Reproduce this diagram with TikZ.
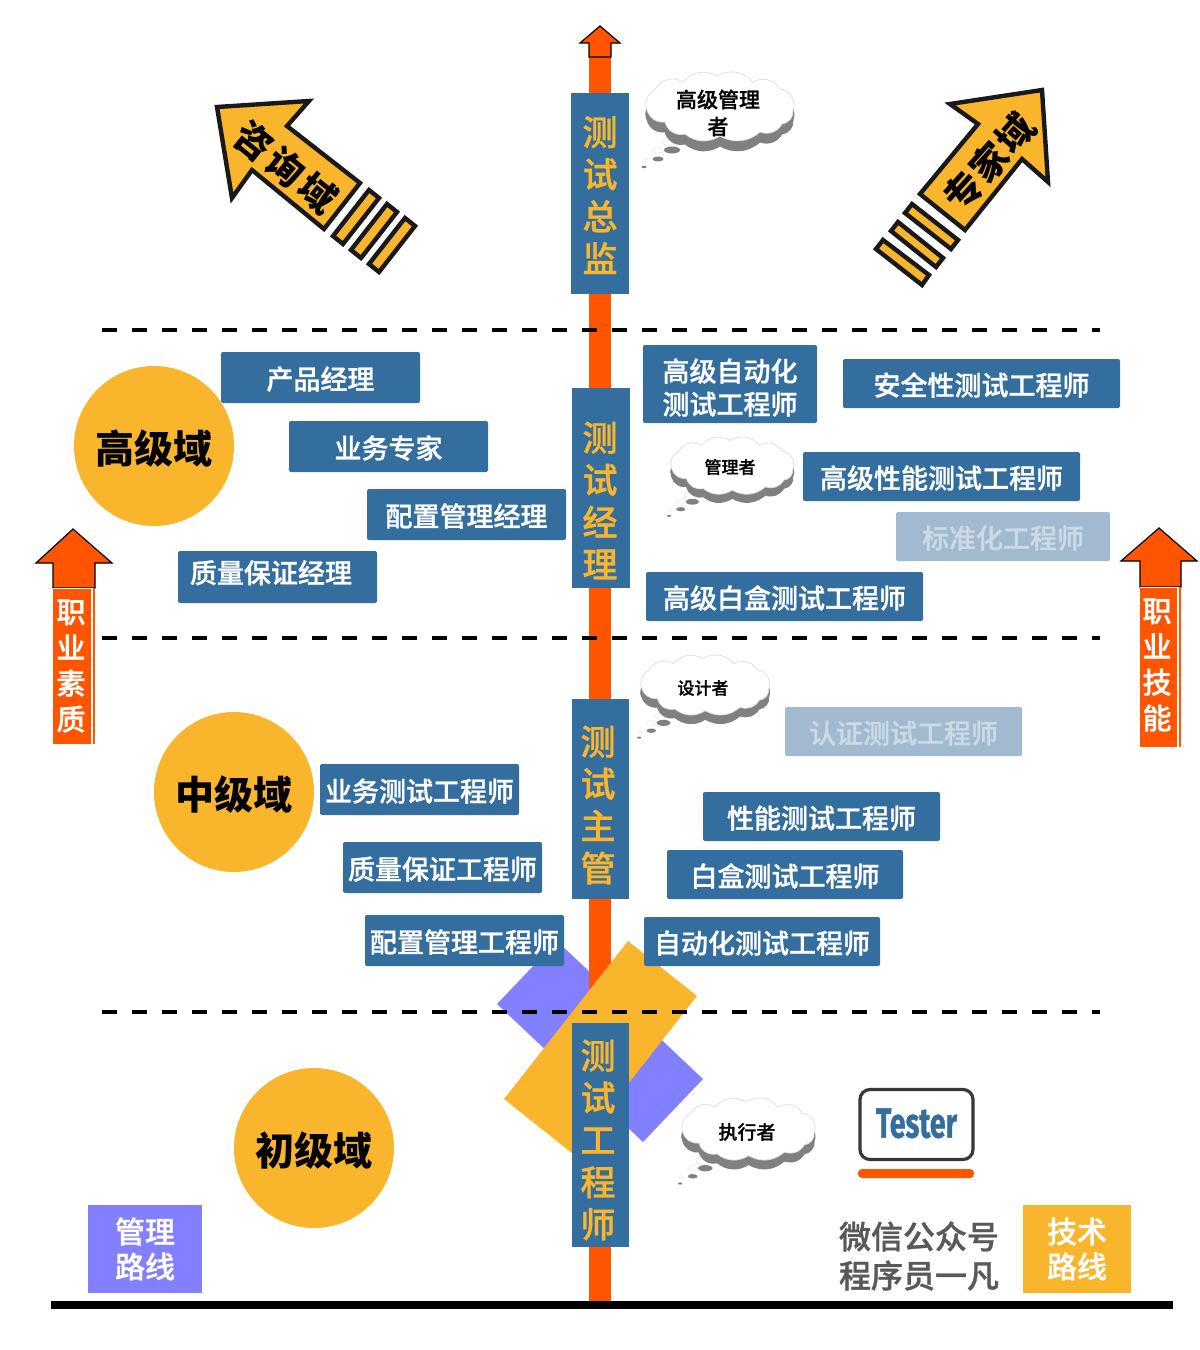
\documentclass[tikz,border=0pt]{standalone}
\usepackage{fontspec}
\setmainfont{Noto Sans CJK SC}
\newfontfamily\cjk{Noto Sans CJK SC}[BoldFont={Noto Sans CJK SC Medium},BoldFeatures={FakeBold=1}]
\newfontfamily\heavycjk{Noto Sans CJK SC}
\newfontfamily\badgefont{Fira Sans}[BoldFeatures={FakeBold=1.2}]
\definecolor{steel}{HTML}{346E9F}
\definecolor{paleSteel}{HTML}{A2BACF}
\definecolor{paleText}{HTML}{CCDAE6}
\definecolor{amberY}{HTML}{F9B52C}
\definecolor{flame}{HTML}{FF5500}
\definecolor{lilac}{HTML}{8380FF}
\definecolor{cloudGray}{HTML}{808080}
\newcommand{\fs}[1]{\fontsize{#1}{#1}\selectfont}
\tikzset{
  sized/.style 2 args={minimum width=#1*0.5pt,minimum height=#2*0.5pt,inner sep=0pt,outer sep=0pt},
  rolebox/.style={rectangle,rounded corners=1pt,fill=steel,text=white,align=center,font=\cjk\bfseries\fs{13.5},
    execute at begin node={\rule{0pt}{13pt}}},
  palebox/.style={rolebox,fill=paleSteel,text=paleText},
  rankbox/.style={rectangle,fill=steel},
  ranktext/.style={text=amberY,align=center,inner sep=0pt,font=\cjk\bfseries\fs{17.5}},
  domaindisc/.style={circle,fill=amberY,text=black,minimum size=80pt,inner sep=0pt,font=\heavycjk\bfseries\fs{19.5},
    execute at begin node={\rule{0pt}{19pt}}},
  outlined/.style={fill=amberY,draw=black!90,line width=2.2pt,line join=miter},
  tiltlabel/.style={font=\heavycjk\bfseries\fs{18.5},text=black,inner sep=0pt},
  routebox/.style={rectangle,text=white,align=center,font=\cjk\bfseries\fs{15},
    execute at begin node={\rule{0pt}{15pt}}},
  sidebox/.style={rectangle,fill=flame},
  sidetext/.style={font=\cjk\bfseries\fs{14.5},text=white,align=center,inner sep=0pt},
  uparrow/.style={fill=flame,draw=black,line width=0.6pt,line join=miter},
  dashrule/.style={draw=black,line width=2pt,dash pattern=on 7.5pt off 7.5pt},
  speech/.style={font=\cjk\bfseries\fs{#1},text=black,align=center,inner sep=0pt},
}
% A thought cloud: scalloped body over a gray copy, trailed by small bubbles.
\newcommand{\thoughtcloud}[3]{%
  \begin{scope}[shift={(#1,#2)},scale=#3]
    \foreach \cx/\cy/\rx/\ry in {27/78/8/3.5,13/87/5.5/2.5,-1/95/2.5/1.2}{
      \fill[cloudGray] (\cx,\cy) ellipse [x radius=\rx,y radius=\ry];}
    \foreach \cx/\cy/\rx/\ry in {25/70/8/4,13/78/5.5/3,0/88/2.5/1.6}{
      \filldraw[fill=white,draw=black!8,line width=.3pt] (\cx,\cy) ellipse [x radius=\rx,y radius=\ry];}
    \foreach \dy/\paint/\edge in {10/cloudGray/cloudGray,0/white/black!12}{
      \filldraw[fill=\paint,draw=\edge,line width=.4pt,yshift=-\dy*0.5pt]
        (2,38) to[bend left=45] (10,18) to[bend left=50] (38,10) to[bend left=40] (72,4)
        to[bend left=40] (108,10) to[bend left=45] (135,17) to[bend left=55] (148,38)
        to[bend left=45] (137,52) to[bend left=40] (115,60) to[bend left=35] (75,64)
        to[bend left=35] (40,62) to[bend left=45] (20,50) to[bend left=40] cycle;}
  \end{scope}}
\begin{document}
\begin{tikzpicture}[x=0.5pt,y=-0.5pt]
\useasboundingbox (0,0) rectangle (1200,1350);

% Central career axis
\fill[flame] (589,57) rectangle (611,1302);
\filldraw[uparrow] (600,26) -- (620,43) -- (611,43) -- (611,57) -- (589,57) -- (589,43) -- (580,43) -- cycle;

% Crossed route bands at the foot of the axis
\fill[lilac] (497,1004) -- (557,941) -- (703,1079) -- (643,1142) -- cycle;
\fill[flame] (589,941) rectangle (611,990);
\fill[amberY] (628,941) -- (697,996) -- (573,1154) -- (504,1099) -- cycle;

% Domain separators
\draw[dashrule] (102,330) -- (1100,330);
\draw[dashrule] (102,638) -- (1100,638);
\draw[dashrule] (102,1012) -- (1100,1012);

% Ground line
\fill[black] (51,1301) rectangle (1173,1309);

% Rank labels on the axis
\node[rankbox,sized={58}{201}] (director) at (600,193.5) {};
\node[ranktext] (directortext) at (600,195) {测\\[3.6pt]试\\[3.6pt]总\\[3.6pt]监};
\node[rankbox,sized={58}{200}] (manager) at (601,488) {};
\node[ranktext] (managertext) at (600,500.5) {测\\[3.6pt]试\\[3.6pt]经\\[3.6pt]理};
\node[rankbox,sized={57}{200}] (lead) at (600.5,799) {};
\node[ranktext] (leadtext) at (598,805) {测\\[3.6pt]试\\[3.6pt]主\\[3.6pt]管};
\node[rankbox,sized={57}{224}] (engineer) at (600.5,1135) {};
\node[ranktext] (engineertext) at (598,1140) {测\\[3.6pt]试\\[3.6pt]工\\[3.6pt]程\\[3.6pt]师};

% Domain discs
\node[domaindisc] (senior) at (154,446) {高级域};
\node[domaindisc] (middle) at (234,792) {中级域};
\node[domaindisc] (junior) at (314,1148) {初级域};

% Senior roles
\node[rolebox,sized={199}{51}] (pm) at (320.5,377.5) {产品经理};
\node[rolebox,sized={199}{51}] (expert) at (388.5,446.5) {业务专家};
\node[rolebox,sized={199}{51}] (cmmgr) at (466.5,514.5) {配置管理经理};
\node[rolebox,sized={199}{52}] (qamgr) at (277.5,577) {\rule[-7pt]{0pt}{7pt}\hspace*{-6.5pt}质量保证经理};
\node[rolebox,sized={174}{78}] (autosr) at (730,384) {\rule{0pt}{15pt}高级自动化\\[3pt]测试工程师};
\node[rolebox,sized={277}{49}] (sec) at (981.5,383.5) {安全性测试工程师};
\node[rolebox,sized={277}{49}] (perfsr) at (941.5,476.5) {高级性能测试工程师};
\node[palebox,sized={214}{49}] (std) at (1003,536.5) {标准化工程师};
\node[rolebox,sized={277}{49}] (wbsr) at (784.5,596.5) {高级白盒测试工程师};

% Middle roles
\node[palebox,sized={237}{49}] (cert) at (903.5,731.5) {认证测试工程师};
\node[rolebox,sized={199}{51}] (biz) at (419.5,789.5) {业务测试工程师};
\node[rolebox,sized={199}{51}] (qa) at (442.5,867.5) {质量保证工程师};
\node[rolebox,sized={199}{51}] (cm) at (464.5,940.5) {配置管理工程师};
\node[rolebox,sized={237}{49}] (perf) at (821.5,816.5) {性能测试工程师};
\node[rolebox,sized={236}{49}] (wb) at (785,874.5) {白盒测试工程师};
\node[rolebox,sized={236}{49}] (auto) at (762,941.5) {自动化测试工程师};

% Consulting domain arrow
\filldraw[outlined] (217,107) -- (309,101) -- (287,126) -- (360,183) -- (324,229) -- (252,170) -- (232,198) -- cycle;
\filldraw[outlined] (369,190) -- (379,198) -- (343,244) -- (333,236) -- cycle;
\filldraw[outlined] (387,204) -- (397,212) -- (361,258) -- (351,250) -- cycle;
\filldraw[outlined] (405,218) -- (415,226) -- (379,272) -- (369,264) -- cycle;
\node[tiltlabel,rotate=-39] (consult) at (286,167) {咨\hspace{2pt}询\hspace{2pt}域};

% Expert domain arrow
\filldraw[outlined] (1042,90) -- (950,104) -- (978,124) -- (920,194) -- (965,230) -- (1022,159) -- (1048,182) -- cycle;
\filldraw[outlined] (912,204) -- (958,240) -- (951,249) -- (905,213) -- cycle;
\filldraw[outlined] (898,222) -- (943,258) -- (936,267) -- (891,231) -- cycle;
\filldraw[outlined] (883,240) -- (929,275) -- (922,285) -- (876,249) -- cycle;
\node[tiltlabel,rotate=48] (specialist) at (989,162) {专\hspace{1pt}家\hspace{1pt}域};

% Side arrows
\filldraw[uparrow] (73,529) -- (112,563) -- (95,563) -- (95,588) -- (53,588) -- (53,563) -- (36,563) -- cycle;
\node[sidebox,sized={42.5}{156}] (quality) at (74.2,666) {};
\draw[white,line width=.6pt] (92,588) -- (92,744);
\draw[white,line width=.6pt] (53,588.5) -- (92,588.5);
\node[sidetext] (qualitytext) at (71,666) {职\\[3.4pt]业\\[3.4pt]素\\[3.4pt]质};

\filldraw[uparrow] (1159,528) -- (1197,561) -- (1181,561) -- (1181,587) -- (1140,587) -- (1140,561) -- (1121,561) -- cycle;
\node[sidebox,sized={41.5}{160}] (skill) at (1160.7,667) {};
\draw[white,line width=.6pt] (1178,587) -- (1178,747);
\draw[white,line width=.6pt] (1140,587.5) -- (1178,587.5);
\node[sidetext] (skilltext) at (1157,665) {职\\[3.4pt]业\\[3.4pt]技\\[3.4pt]能};

% Thought clouds
\thoughtcloud{645}{72}{1}
\node[speech=10.5] (tc1) at (718,113) {高级管理\\[3pt]者};
\thoughtcloud{670}{437}{.83}
\node[speech=8.5] (tc2) at (730,467) {管理者};
\thoughtcloud{640}{655}{.87}
\node[speech=8.5] (tc3) at (703,688) {设计者};
\thoughtcloud{681}{1098}{.9}
\node[speech=9.5] (tc4) at (747,1132) {执行者};

% Route legends
\node[routebox,fill=lilac,sized={114}{88}] (mgmtroute) at (145,1249) {管理\\[2.5pt]路线};
\node[routebox,fill=amberY,sized={108}{88}] (techroute) at (1077,1249) {技术\\[2.5pt]路线};

% Account name and badge
\node[font=\cjk\bfseries\fs{16},text=black!65,align=center,inner sep=0pt] (account) at (919,1256) {微信公众号\\[3.5pt]程序员一凡};
\node[draw=black!78,line width=1.6pt,rounded corners=5pt,fill=white,sized={113}{70},text=steel] (badge) at (916.5,1124.5) {\raisebox{1.5pt}{\scalebox{.68}[1]{\badgefont\bfseries\fs{21}Tester}}};
\fill[flame,rounded corners=2pt] (858,1169) rectangle (974,1178);
\end{tikzpicture}
\end{document}
